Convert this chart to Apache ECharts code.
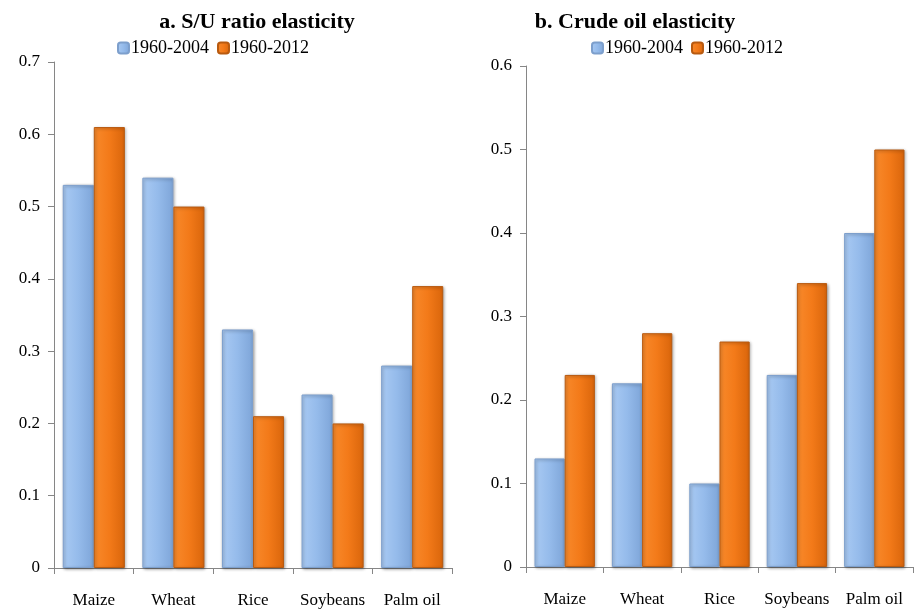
<!DOCTYPE html>
<html>
<head>
<meta charset="utf-8">
<script src="https://cdn.jsdelivr.net/npm/echarts@6/dist/echarts.min.js"></script>
<style>
  html, body { margin: 0; padding: 0; background: #fff; }
  #chart { width: 914px; height: 611px; }
</style>
</head>
<body>
<div id="chart"></div>
<script>
var categories = ["Maize", "Wheat", "Rice", "Soybeans", "Palm oil"];
var seriesNames = ["1960-2004", "1960-2012"];
// a. S/U ratio elasticity
var suEarly = [0.53, 0.54, 0.33, 0.24, 0.28];
var suLate = [0.61, 0.50, 0.21, 0.20, 0.39];
// b. Crude oil elasticity
var oilEarly = [0.13, 0.22, 0.10, 0.23, 0.40];
var oilLate = [0.23, 0.28, 0.27, 0.34, 0.50];

var font = "Liberation Serif";
var axisGrey = "#868686";

var blueFill = new echarts.graphic.LinearGradient(0, 0, 1, 0, [
  { offset: 0, color: "#a9caf3" },
  { offset: 0.5, color: "#95bbeb" },
  { offset: 1, color: "#7ea5d8" }
]);
var orangeFill = new echarts.graphic.LinearGradient(0, 0, 1, 0, [
  { offset: 0, color: "#f88a2c" },
  { offset: 0.5, color: "#f37a19" },
  { offset: 1, color: "#d9650b" }
]);

function xAx(idx) {
  return {
    type: "category",
    gridIndex: idx,
    data: categories,
    axisLine: { lineStyle: { color: axisGrey, width: 1 } },
    axisTick: { show: true, length: 6, lineStyle: { color: axisGrey } },
    axisLabel: { color: "#000", fontFamily: font, fontSize: 17, margin: 24, interval: 0 },
    splitLine: { show: false }
  };
}
function yAx(idx, max) {
  return {
    type: "value",
    gridIndex: idx,
    min: 0,
    max: max,
    interval: 0.1,
    axisLine: { show: true, lineStyle: { color: axisGrey, width: 1 } },
    axisTick: { show: true, length: 6, lineStyle: { color: axisGrey } },
    axisLabel: {
      color: "#000", fontFamily: font, fontSize: 17, margin: 14,
      formatter: function (v) { return v === 0 ? "0" : v.toFixed(1); }
    },
    splitLine: { show: false }
  };
}
function bar(name, data, idx, fill, border) {
  return {
    name: name,
    type: "bar",
    xAxisIndex: idx,
    yAxisIndex: idx,
    data: data,
    barGap: "0%",
    barCategoryGap: "22%",
    itemStyle: {
      color: fill,
      borderColor: border,
      borderWidth: 1,
      shadowColor: "rgba(0,0,0,0.35)",
      shadowBlur: 3,
      shadowOffsetX: 1,
      shadowOffsetY: 1
    }
  };
}

var chart = echarts.init(document.getElementById("chart"));
var option = {
  backgroundColor: "#fff",
  animation: false,
  title: [
    { text: "a. S/U ratio elasticity", left: 252, top: 6, textAlign: "center",
      textStyle: { fontFamily: font, fontSize: 22, fontWeight: "bold", color: "#000" } },
    { text: "b. Crude oil elasticity", left: 630, top: 6, textAlign: "center",
      textStyle: { fontFamily: font, fontSize: 22, fontWeight: "bold", color: "#000" } }
  ],
  legend: [
    { data: seriesNames, left: 112, top: 34, itemWidth: 11, itemHeight: 11, itemGap: 8,
      textStyle: { fontFamily: font, fontSize: 18, color: "#000", padding: [0, 0, 0, -3] } },
    { data: seriesNames, left: 586, top: 34, itemWidth: 11, itemHeight: 11, itemGap: 8,
      textStyle: { fontFamily: font, fontSize: 18, color: "#000", padding: [0, 0, 0, -3] } }
  ],
  grid: [
    { left: 54, right: 462, top: 62, bottom: 43 },
    { left: 526, right: 1, top: 66, bottom: 44 }
  ],
  xAxis: [xAx(0), xAx(1)],
  yAxis: [yAx(0, 0.7), yAx(1, 0.6)],
  series: [
    bar(seriesNames[0], suEarly, 0, blueFill, "#7d9fcc"),
    bar(seriesNames[1], suLate, 0, orangeFill, "#b85a10"),
    bar(seriesNames[0], oilEarly, 1, blueFill, "#7d9fcc"),
    bar(seriesNames[1], oilLate, 1, orangeFill, "#b85a10")
  ]
};
chart.setOption(option);
</script>
</body>
</html>
